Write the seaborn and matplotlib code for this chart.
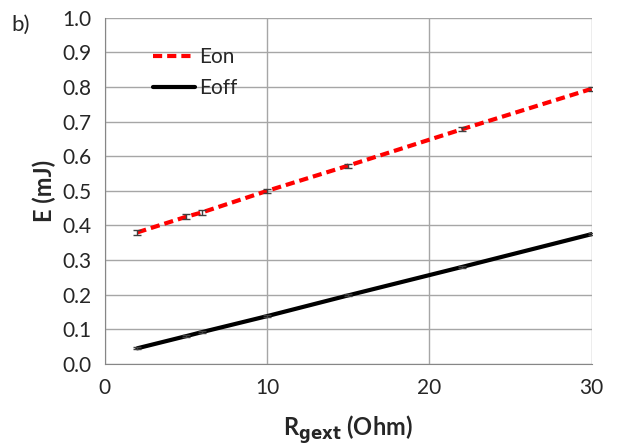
import matplotlib
matplotlib.use("Agg")
import matplotlib.pyplot as plt
import seaborn as sns
import pandas as pd

r_gext = [2, 5, 6, 10, 15, 22, 30]
e_on = [0.380, 0.425, 0.438, 0.500, 0.573, 0.678, 0.795]
e_off = [0.045, 0.080, 0.092, 0.138, 0.198, 0.280, 0.375]
err_on = [0.007, 0.007, 0.007, 0.006, 0.006, 0.006, 0.006]
err_off = [0.003, 0.003, 0.003, 0.003, 0.003, 0.003, 0.003]

sns.set_style("white")
plt.rcParams['font.family'] = ['Lato', 'DejaVu Sans']

df = pd.DataFrame({"R": r_gext * 2,
                   "E": e_on + e_off,
                   "series": ["Eon"] * len(r_gext) + ["Eoff"] * len(r_gext)})

fig = plt.figure(figsize=(6.17, 4.47), dpi=100)
ax = fig.add_axes([0.170, 0.186, 0.789, 0.774])

sns.lineplot(data=df, x="R", y="E", hue="series", style="series",
             palette={"Eon": "#ff0000", "Eoff": "#000000"},
             dashes={"Eon": (2.2, 1.2), "Eoff": ""}, linewidth=3, ax=ax, zorder=3)
ax.errorbar(r_gext, e_on, yerr=err_on, fmt="none", ecolor="#404040",
            elinewidth=1, capsize=3, zorder=4)
ax.errorbar(r_gext, e_off, yerr=err_off, fmt="none", ecolor="#404040",
            elinewidth=1, capsize=3, zorder=4)

ax.set_xlim(0, 30)
ax.set_ylim(0, 1.0)
ax.set_xticks([0, 10, 20, 30])
ax.set_yticks([i / 10 for i in range(11)])
ax.set_yticklabels([f"{i/10:.1f}" for i in range(11)])
ax.grid(True, color="#a6a6a6", linewidth=1)
ax.set_axisbelow(True)
for s in ["top", "right"]:
    ax.spines[s].set_visible(False)
for s in ["left", "bottom"]:
    ax.spines[s].set_color("#868686")
ax.tick_params(axis="y", length=4, color="#868686", labelsize=15, pad=6)
ax.tick_params(axis="x", length=0, labelsize=15, pad=10)
ax.set_xlabel(r"R$_{\mathbf{gext}}$ (Ohm)", fontsize=17, fontweight="bold", labelpad=11)
ax.set_ylabel("E (mJ)", fontsize=17, fontweight="bold", labelpad=4)

handles, labels = ax.get_legend_handles_labels()
ax.legend(handles, labels, loc="upper left", bbox_to_anchor=(0.06, 0.97),
          frameon=False, fontsize=15, handlelength=2.0, handletextpad=0.2,
          labelspacing=0.55)

fig.text(0.018, 0.93, "b)", fontsize=16)

fig.savefig("out.png", dpi=100)
